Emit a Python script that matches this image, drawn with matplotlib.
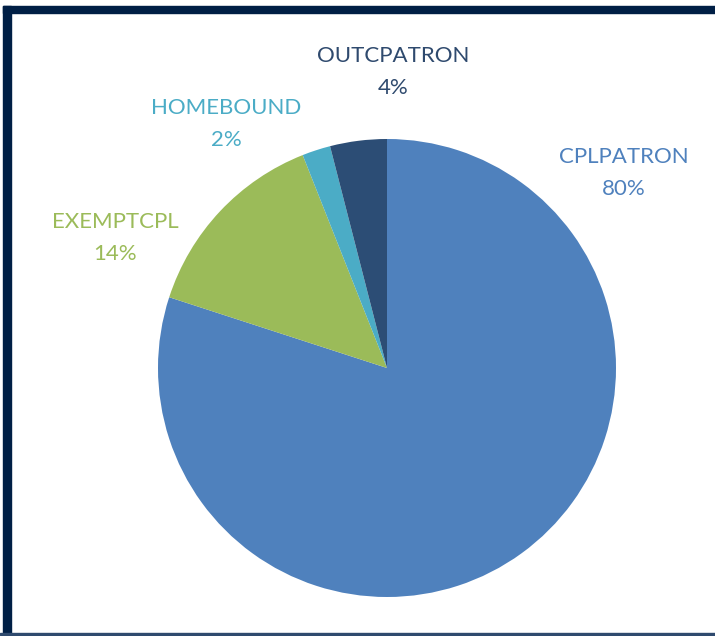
import matplotlib.pyplot as plt
from matplotlib.patches import Rectangle

# data
categories = ['CPLPATRON', 'EXEMPTCPL', 'HOMEBOUND', 'OUTCPATRON']
shares = [80, 14, 2, 4]
slice_colors = ['#4F81BD', '#9BBB59', '#4BACC6', '#2C4D75']
label_colors = ['#4F81BD', '#9BBB59', '#4BACC6', '#2F4A6E']

W, H = 715, 636
fig = plt.figure(figsize=(W / 100, H / 100), dpi=100)
ax = fig.add_axes([0, 0, 1, 1])

# pie, drawn clockwise from 12 o'clock
ax.pie(shares, colors=slice_colors, startangle=90, counterclock=False,
       center=(387, H - 368), radius=229, frame=True,
       wedgeprops=dict(linewidth=0))
ax.set_xlim(0, W)
ax.set_ylim(0, H)
ax.set_aspect('equal')
ax.axis('off')

# label positions (pixel coords of text centre)
label_pos = [(624, 173), (115, 238), (226, 124), (393, 72)]
for name, v, col, (px, py) in zip(categories, shares, label_colors, label_pos):
    ax.text(px, H - py, f'{name}\n{v}%', color=col, ha='center', va='center',
            fontsize=16, family='Lato', linespacing=1.7)

# frame around the picture
navy = '#001F45'
fig.patches.append(Rectangle((3 / W, 0), 7.5 / W, 1 - 6 / H, transform=fig.transFigure,
                             color=navy, zorder=5))
fig.patches.append(Rectangle((3 / W, 1 - 13 / H), 1, 7 / H, transform=fig.transFigure,
                             color=navy, zorder=5))
fig.patches.append(Rectangle((0, 1.5 / H), 1, 1.5 / H, transform=fig.transFigure,
                             color='#2F4A6E', zorder=5))

fig.savefig('out.png', dpi=100, facecolor='white')
